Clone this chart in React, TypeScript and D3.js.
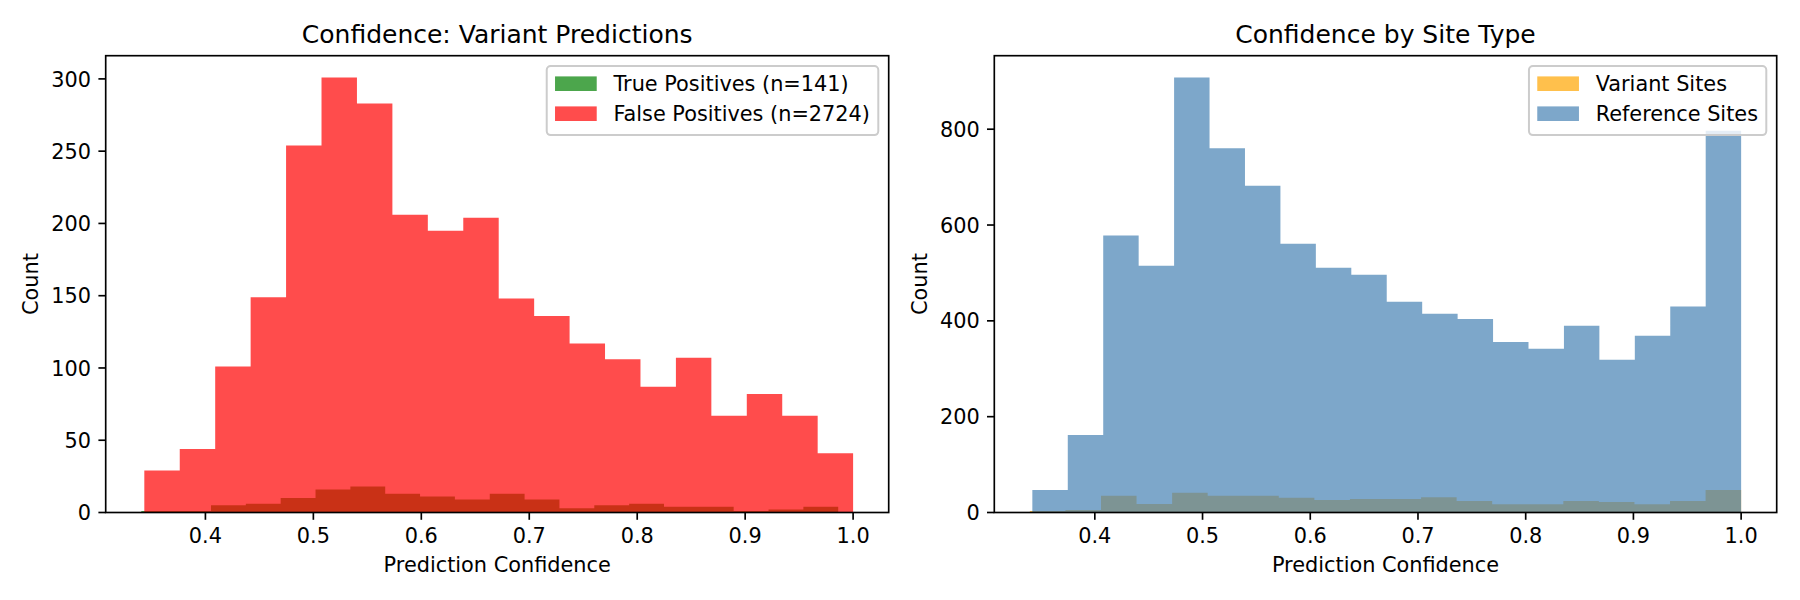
import React, { useMemo } from 'react';
import * as d3 from 'd3';

// ---- data (20 bins per series) ----
const tpCounts = [1, 1, 5, 6, 10, 16, 18, 13, 11, 9, 13, 9, 3, 5, 6, 4, 4, 1, 2, 4];
const fpCounts = [29, 44, 101, 149, 254, 301, 283, 206, 195, 204, 148, 136, 117, 106, 87, 107, 67, 82, 67, 41];
const variantCounts = [3, 5, 35, 18, 41, 35, 35, 31, 26, 28, 28, 32, 24, 17, 17, 24, 22, 17, 24, 47];
const referenceCounts = [47, 162, 578, 515, 908, 760, 682, 561, 511, 496, 440, 415, 404, 356, 342, 390, 319, 369, 430, 797];

// min / max confidence of each series (bin edges span these)
const tpRange: [number, number] = [0.3406, 0.9862];
const fpRange: [number, number] = [0.3434, 1.0];
const variantRange: [number, number] = [0.3397, 1.0];
const referenceRange: [number, number] = [0.342, 1.0];

const xTicks = [0.4, 0.5, 0.6, 0.7, 0.8, 0.9, 1.0];
const leftYTicks = [0, 50, 100, 150, 200, 250, 300];
const rightYTicks = [0, 200, 400, 600, 800];

const FONT = "'DejaVu Sans', sans-serif";
const FS = 20.83;
const TICK = 7.3;
const PAD = 7.3;
const TOP = 55.7;
const BOTTOM = 512.5;

interface Series {
  label: string;
  counts: number[];
  range: [number, number];
  color: string;
}

const measure = (() => {
  let ctx: CanvasRenderingContext2D | null = null;
  return (s: string) => {
    if (!ctx) {
      ctx = document.createElement('canvas').getContext('2d');
    }
    if (!ctx) return s.length * FS * 0.6;
    ctx.font = `${FS}px "DejaVu Sans"`;
    return ctx.measureText(s).width;
  };
})();

const binEdges = (range: [number, number], n: number) =>
  d3.range(n + 1).map((i) => range[0] + ((range[1] - range[0]) * i) / n);

function Panel({
  left,
  right,
  title,
  series,
  yTicks,
}: {
  left: number;
  right: number;
  title: string;
  series: Series[];
  yTicks: number[];
}) {
  const lo = d3.min(series, (s) => s.range[0]) as number;
  const hi = d3.max(series, (s) => s.range[1]) as number;
  const span = hi - lo;
  const x = d3.scaleLinear().domain([lo - span * 0.05, hi + span * 0.05]).range([left, right]);
  const yMax = d3.max(series, (s) => d3.max(s.counts) as number) as number;
  const y = d3.scaleLinear().domain([0, yMax * 1.05]).range([BOTTOM, TOP]);

  // one stepped shape per histogram, so neighbouring bins leave no seams
  const area = d3
    .area<[number, number]>()
    .x((d) => x(d[0]))
    .y0(y(0))
    .y1((d) => y(d[1]))
    .curve(d3.curveStepAfter);

  const legendText = useMemo(() => d3.max(series, (s) => measure(s.label)) as number, [series]);
  const legendW = 8.3 + 41.7 + 16.7 + legendText + 8.3;
  const legendX = right - 10.4 - legendW;
  const legendY = TOP + 10.4;

  return (
    <g>
      {series.map((s) => {
        const edges = binEdges(s.range, s.counts.length);
        const pts = edges.map((e, i) => [e, s.counts[Math.min(i, s.counts.length - 1)]] as [number, number]);
        return <path key={s.label} d={area(pts) ?? ''} fill={s.color} fillOpacity={0.7} />;
      })}

      {/* spines */}
      <rect x={left} y={TOP} width={right - left} height={BOTTOM - TOP} fill="none" stroke="#000" strokeWidth={1.67} />

      {/* x axis */}
      {xTicks.map((t) => (
        <g key={t}>
          <line x1={x(t)} x2={x(t)} y1={BOTTOM} y2={BOTTOM + TICK} stroke="#000" strokeWidth={1.67} />
          <text x={x(t)} y={BOTTOM + 30.8} textAnchor="middle" fontSize={FS} fontFamily={FONT}>
            {t.toFixed(1)}
          </text>
        </g>
      ))}
      <text x={(left + right) / 2} y={BOTTOM + 59.2} textAnchor="middle" fontSize={FS} fontFamily={FONT}>
        Prediction Confidence
      </text>

      {/* y axis */}
      {yTicks.map((t) => (
        <g key={t}>
          <line x1={left - TICK} x2={left} y1={y(t)} y2={y(t)} stroke="#000" strokeWidth={1.67} />
          <text x={left - TICK - PAD} y={y(t) + FS * 0.365} textAnchor="end" fontSize={FS} fontFamily={FONT}>
            {t}
          </text>
        </g>
      ))}
      <text
        transform={`translate(${left - 67.5},${(TOP + BOTTOM) / 2}) rotate(-90)`}
        textAnchor="middle"
        fontSize={FS}
        fontFamily={FONT}
      >
        Count
      </text>

      <text x={(left + right) / 2} y={TOP - 12.5} textAnchor="middle" fontSize={25} fontFamily={FONT}>
        {title}
      </text>

      {/* legend */}
      <rect
        x={legendX}
        y={legendY}
        width={legendW}
        height={69}
        rx={4}
        fill="#fff"
        fillOpacity={0.8}
        stroke="#cccccc"
        strokeWidth={2}
      />
      {series.map((s, i) => (
        <g key={s.label} transform={`translate(${legendX + 8.3},${legendY + 10.3 + i * 30})`}>
          <rect width={41.7} height={14.6} fill={s.color} fillOpacity={0.7} />
          <text x={41.7 + 16.7} y={15} fontSize={FS} fontFamily={FONT}>
            {s.label}
          </text>
        </g>
      ))}
    </g>
  );
}

const leftSeries: Series[] = [
  { label: `True Positives (n=${d3.sum(tpCounts)})`, counts: tpCounts, range: tpRange, color: 'green' },
  { label: `False Positives (n=${d3.sum(fpCounts)})`, counts: fpCounts, range: fpRange, color: 'red' },
];

const rightSeries: Series[] = [
  { label: 'Variant Sites', counts: variantCounts, range: variantRange, color: 'orange' },
  { label: 'Reference Sites', counts: referenceCounts, range: referenceRange, color: 'steelblue' },
];

export default function App() {
  return (
    <div style={{ position: 'absolute', left: 0, top: 0 }}>
      <svg width={1800} height={600} style={{ display: 'block', background: '#fff' }}>
        <Panel left={105.7} right={888.7} title="Confidence: Variant Predictions" series={leftSeries} yTicks={leftYTicks} />
        <Panel left={994.3} right={1776.7} title="Confidence by Site Type" series={rightSeries} yTicks={rightYTicks} />
      </svg>
    </div>
  );
}
